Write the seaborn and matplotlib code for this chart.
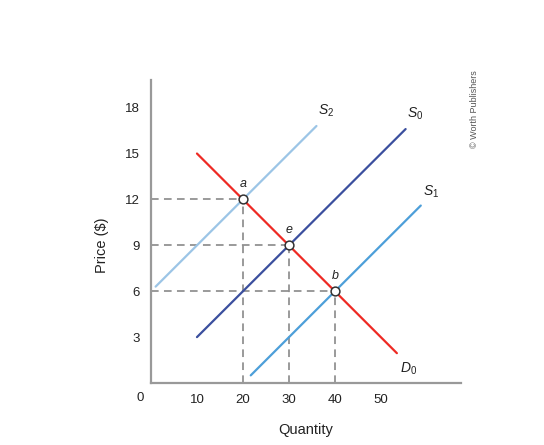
import matplotlib
matplotlib.use('Agg')
import matplotlib.pyplot as plt
import pandas as pd
import seaborn as sns

# Line end points (quantity, price)
d0_q = [10, 53.5]
d0_p = [15, 1.95]
s0_q = [10, 55.4]
s0_p = [3, 16.6]
s1_q = [21.7, 58.7]
s1_p = [0.5, 11.6]
s2_q = [1, 36]
s2_p = [6.3, 16.8]

# equilibrium points
eq_q = [20, 30, 40]
eq_p = [12, 9, 6]
eq_labels = ['a', 'e', 'b']

x_ticks = [10, 20, 30, 40, 50]
y_ticks = [3, 6, 9, 12, 15, 18]

sns.set_style('white')
plt.rcParams['font.family'] = ['Liberation Sans', 'DejaVu Sans']
plt.rcParams['mathtext.fontset'] = 'custom'
plt.rcParams['mathtext.it'] = 'Liberation Sans:italic'
plt.rcParams['mathtext.rm'] = 'Liberation Sans'

fig = plt.figure(figsize=(5.44, 4.45), dpi=100)
ax = fig.add_axes([0.2776, 0.1393, 0.5694, 0.6807])

grey = '#7f7f7f'
# dashed guide lines
for q, p in zip(eq_q, eq_p):
    ax.plot([0, q], [p, p], color=grey, lw=1.1, ls=(0, (5, 3.5)), zorder=1)
    ax.plot([q, q], [0, p], color=grey, lw=1.1, ls=(0, (5, 3.5)), zorder=1)

lines = pd.DataFrame({
    'q': s2_q + s0_q + s1_q + d0_q,
    'p': s2_p + s0_p + s1_p + d0_p,
    'curve': ['S2'] * 2 + ['S0'] * 2 + ['S1'] * 2 + ['D0'] * 2,
})
palette = {'S2': '#9cc5e6', 'S0': '#3b4f9e', 'S1': '#4d9fd9', 'D0': '#ee2a24'}
sns.lineplot(data=lines, x='q', y='p', hue='curve', palette=palette,
             lw=1.6, legend=False, ax=ax, zorder=2)

sns.scatterplot(x=eq_q, y=eq_p, ax=ax, s=40, color='white',
                edgecolor='#333333', linewidth=1.1, zorder=4)
for q, p, lab in zip(eq_q, eq_p, eq_labels):
    ax.text(q, p + 0.6, lab, fontsize=9, style='italic', ha='center',
            va='bottom', color='#222222')

lab_kw = dict(fontsize=10, color='#222222', ha='center', va='center')
ax.text(s2_q[1] + 2, s2_p[1] + 1.0, r'$S_2$', **lab_kw)
ax.text(s0_q[1] + 2, s0_p[1] + 1.0, r'$S_0$', **lab_kw)
ax.text(s1_q[1] + 2.2, s1_p[1] + 0.9, r'$S_1$', **lab_kw)
ax.text(d0_q[1] + 2.6, d0_p[1] - 1.0, r'$D_0$', **lab_kw)

ax.set_xlim(0, 67.4)
ax.set_ylim(0, 19.8)
ax.set_xticks(x_ticks)
ax.set_yticks(y_ticks)
ax.tick_params(direction='in', length=7, width=1, color='#999999',
               labelsize=9.5, pad=8, labelcolor='#222222')
for side in ['top', 'right']:
    ax.spines[side].set_visible(False)
for side in ['left', 'bottom']:
    ax.spines[side].set_color('#999999')
    ax.spines[side].set_linewidth(1.6)

ax.text(-0.035, -0.05, '0', transform=ax.transAxes, fontsize=9.5,
        ha='center', va='center', color='#222222')
ax.set_xlabel('Quantity', fontsize=10.5, color='#222222', labelpad=12)
ax.set_ylabel('Price ($)', fontsize=10.5, color='#222222')
ax.yaxis.set_label_coords(-0.135, 0.455)

fig.text(0.873, 0.755, '© Worth Publishers', rotation=90, fontsize=6.5,
         ha='center', va='center', color='#555555')

fig.savefig('out.png', dpi=100)
